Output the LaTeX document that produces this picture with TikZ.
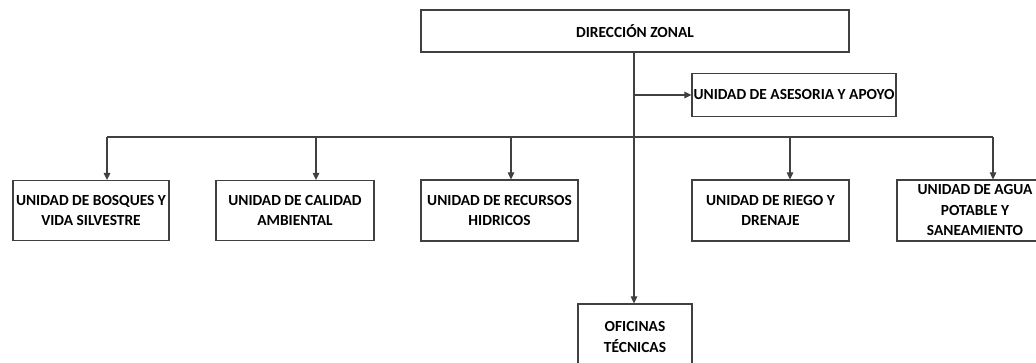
\documentclass[tikz,border=0pt]{standalone}
\usepackage{fontspec}
\setmainfont{Carlito}
\usetikzlibrary{arrows.meta}
\begin{document}
\begin{tikzpicture}[x=1pt,y=-1pt,
  box/.style={draw=black!75,line width=1.2pt,inner sep=0pt,align=center,
    font=\bfseries\fontsize{15.4}{20.5}\selectfont},
  conn/.style={draw=black!75,line width=1.2pt},
  arr/.style={conn,-{Triangle[length=7pt,width=6.5pt]}}]
\useasboundingbox (0,0) rectangle (1036,363);
\clip (0,0) rectangle (1036,363);
\fill[white] (0,0) rectangle (1036,363);
\node[box,minimum width=428pt,minimum height=42pt] (dz) at (635,31) {DIRECCIÓN ZONAL};
\node[box,minimum width=204pt,minimum height=43pt] (ase) at (794,95) {UNIDAD DE ASESORIA Y APOYO};
\node[box,minimum width=156pt,minimum height=60pt] (b1) at (91,210.5) {UNIDAD DE BOSQUES Y\\VIDA SILVESTRE};
\node[box,minimum width=158pt,minimum height=60pt] (b2) at (295,210.5) {UNIDAD DE CALIDAD\\AMBIENTAL};
\node[box,minimum width=157pt,minimum height=61pt] (b3) at (499.5,210.5) {UNIDAD DE RECURSOS\\HIDRICOS};
\node[box,minimum width=157pt,minimum height=61pt] (b4) at (770.5,210.5) {UNIDAD DE RIEGO Y\\DRENAJE};
\node[box,minimum width=156pt,minimum height=61pt] (b5) at (975,210.5) {UNIDAD DE AGUA\\POTABLE Y\\SANEAMIENTO};
\node[box,minimum width=114pt,minimum height=66pt] (of) at (635,337) {OFICINAS\\TÉCNICAS};
\coordinate (t1) at (634,95);
\coordinate (j1) at (107,137);
\coordinate (j2) at (316,137);
\coordinate (j3) at (511,137);
\coordinate (j4) at (790,137);
\coordinate (j5) at (993,137);
\draw[arr] (dz.south -| t1) -- (t1 |- of.north);
\draw[arr] (t1) -- (t1 -| ase.west);
\draw[conn] (j1) -- (j5);
\draw[arr] (j1) -- (j1 |- b1.north);
\draw[arr] (j2) -- (j2 |- b2.north);
\draw[arr] (j3) -- (j3 |- b3.north);
\draw[arr] (j4) -- (j4 |- b4.north);
\draw[arr] (j5) -- (j5 |- b5.north);
\end{tikzpicture}
\end{document}
